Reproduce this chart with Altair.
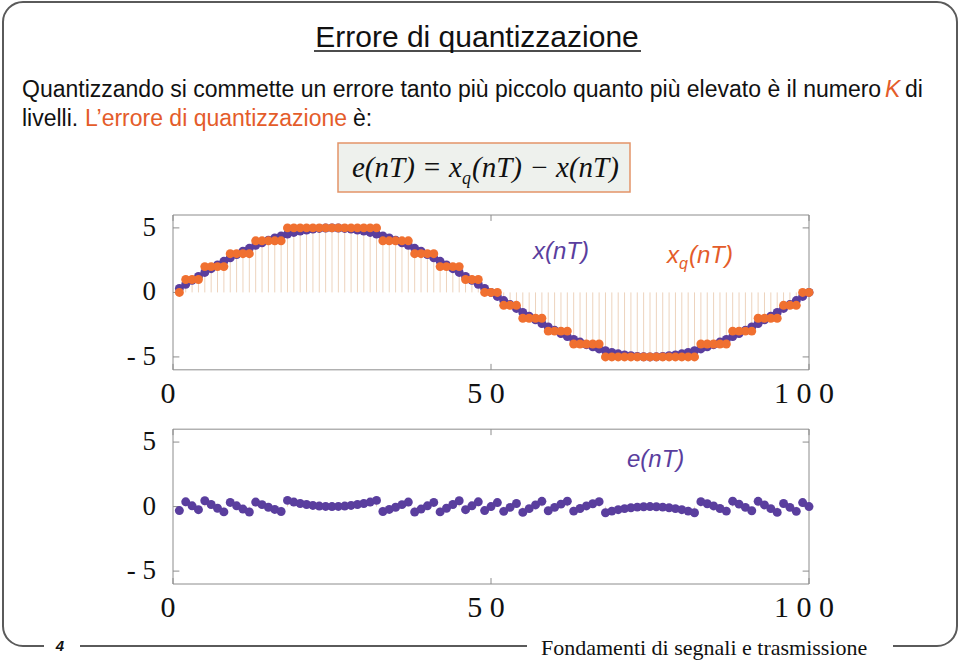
import altair as alt
import pandas as pd

# ---------------- data ----------------
n_idx = list(range(1, 101))

x_vals = [0.31, 0.63, 0.94, 1.24, 1.55, 1.84, 2.13, 2.41, 2.68, 2.94,
          3.19, 3.42, 3.65, 3.85, 4.05, 4.22, 4.38, 4.52, 4.65, 4.76,
          4.84, 4.91, 4.96, 4.99, 5.00, 4.99, 4.96, 4.91, 4.84, 4.76,
          4.65, 4.52, 4.38, 4.22, 4.05, 3.85, 3.65, 3.42, 3.19, 2.94,
          2.68, 2.41, 2.13, 1.84, 1.55, 1.24, 0.94, 0.63, 0.31, 0.00,
          -0.31, -0.63, -0.94, -1.24, -1.55, -1.84, -2.13, -2.41, -2.68, -2.94,
          -3.19, -3.42, -3.65, -3.85, -4.05, -4.22, -4.38, -4.52, -4.65, -4.76,
          -4.84, -4.91, -4.96, -4.99, -5.00, -4.99, -4.96, -4.91, -4.84, -4.76,
          -4.65, -4.52, -4.38, -4.22, -4.05, -3.85, -3.65, -3.42, -3.19, -2.94,
          -2.68, -2.41, -2.13, -1.84, -1.55, -1.24, -0.94, -0.63, -0.31, 0.00]

xq_vals = [0, 1, 1, 1, 2, 2, 2, 2, 3, 3,
           3, 3, 4, 4, 4, 4, 4, 5, 5, 5,
           5, 5, 5, 5, 5, 5, 5, 5, 5, 5,
           5, 5, 4, 4, 4, 4, 4, 3, 3, 3,
           3, 2, 2, 2, 2, 1, 1, 1, 0, 0,
           0, -1, -1, -1, -2, -2, -2, -2, -3, -3,
           -3, -3, -4, -4, -4, -4, -4, -5, -5, -5,
           -5, -5, -5, -5, -5, -5, -5, -5, -5, -5,
           -5, -5, -4, -4, -4, -4, -4, -3, -3, -3,
           -3, -2, -2, -2, -2, -1, -1, -1, 0, 0]

e_vals = [-0.31, 0.37, 0.06, -0.24, 0.45, 0.16, -0.13, -0.41, 0.32, 0.06,
          -0.19, -0.42, 0.35, 0.15, -0.05, -0.22, -0.38, 0.48, 0.35, 0.24,
          0.16, 0.09, 0.04, 0.01, 0.00, 0.01, 0.04, 0.09, 0.16, 0.24,
          0.35, 0.48, -0.38, -0.22, -0.05, 0.15, 0.35, -0.42, -0.19, 0.06,
          0.32, -0.41, -0.13, 0.16, 0.45, -0.24, 0.06, 0.37, -0.31, 0.00,
          0.31, -0.37, -0.06, 0.24, -0.45, -0.16, 0.13, 0.41, -0.32, -0.06,
          0.19, 0.42, -0.35, -0.15, 0.05, 0.22, 0.38, -0.48, -0.35, -0.24,
          -0.16, -0.09, -0.04, -0.01, 0.00, -0.01, -0.04, -0.09, -0.16, -0.24,
          -0.35, -0.48, 0.38, 0.22, 0.05, -0.15, -0.35, 0.42, 0.19, -0.06,
          -0.32, 0.41, 0.13, -0.16, -0.45, 0.24, -0.06, -0.37, 0.31, 0.00]

y_ticks = [5, 0, -5]
y_tick_labels = ["5", "0", "- 5"]
x_ticks = [0, 50, 100]
x_tick_labels = ["0", "5  0", "1  0  0"]

# ---------------- styles ----------------
PURPLE = "#5a3e9e"
ORANGE = "#f07030"
TXT_ORANGE = "#e45c2a"
STEM = "#edd3bd"
FRAME = "#8c8c8c"
SERIF = "Liberation Serif"
SANS = "Liberation Sans"
DOT = 80

# both panels share one y scale; the lower panel is drawn with a vertical offset
Y_LIM = 6
BOT_SHIFT = -16.6

top_df = pd.DataFrame({"n": n_idx, "xs": x_vals, "xq": xq_vals})
bot_df = pd.DataFrame({"n": n_idx, "e": e_vals})
yt_df = pd.DataFrame({"t": y_ticks, "lab": y_tick_labels})
xt_df = pd.DataFrame({"t": x_ticks, "lab": x_tick_labels})
one = pd.DataFrame({"k": [0]})

xsc = alt.Scale(domain=[0, 100], range=[173, 809], nice=False, zero=False)
ysc = alt.Scale(domain=[BOT_SHIFT - Y_LIM, Y_LIM], range=[584, 215], nice=False, zero=False)


def X(f):
    return alt.X(f, type="quantitative", scale=xsc, axis=None)


def Y(f):
    return alt.Y(f, type="quantitative", scale=ysc, axis=None)


def frame_layers(shift):
    lo, hi = shift - Y_LIM, shift + Y_LIM
    layers = [
        alt.Chart(one).transform_calculate(
            a="0", b="100", c=f"{lo}", d=f"{hi}"
        ).mark_rect(fillOpacity=0, stroke=FRAME, strokeWidth=1).encode(
            x=X("a"), x2="b", y=Y("c"), y2="d"),
    ]
    for a, b in [(0, 1), (99, 100)]:
        layers.append(
            alt.Chart(yt_df).transform_calculate(
                ty=f"datum.t + ({shift})", a=f"{a}", b=f"{b}"
            ).mark_rule(color=FRAME, strokeWidth=1).encode(
                x=X("a"), x2="b", y=Y("ty")))
    for a, b in [(lo, lo + 0.46), (hi, hi - 0.46)]:
        layers.append(
            alt.Chart(xt_df).transform_calculate(
                a=f"{a}", b=f"{b}"
            ).mark_rule(color=FRAME, strokeWidth=1).encode(
                x=X("t"), y=Y("a"), y2="b"))
    layers.append(
        alt.Chart(yt_df).transform_calculate(
            ty=f"datum.t + ({shift})", a="0"
        ).mark_text(font=SERIF, fontSize=27, align="right", baseline="middle",
                    dx=-17, color="#111").encode(
            x=X("a"), y=Y("ty"), text="lab:N"))
    layers.append(
        alt.Chart(xt_df).transform_calculate(
            c=f"{lo}"
        ).mark_text(font=SERIF, fontSize=30, align="center", baseline="alphabetic",
                    dx=-5, dy=33, color="#111").encode(
            x=X("t"), y=Y("c"), text="lab:N"))
    return layers


# ---------------- top panel ----------------
top_base = alt.Chart(top_df).transform_calculate(z="0")
top_stems = top_base.mark_rule(color=STEM, strokeWidth=1).encode(
    x=X("n"), y=Y("z"), y2="xq")
top_x = top_base.mark_circle(size=DOT, opacity=1, color=PURPLE).encode(
    x=X("n"), y=Y("xs"))
top_xq = top_base.mark_circle(size=DOT, opacity=1, color=ORANGE).encode(
    x=X("n"), y=Y("xq"))

# ---------------- bottom panel ----------------
bot_base = alt.Chart(bot_df).transform_calculate(
    es=f"datum.e + ({BOT_SHIFT})", z=f"{BOT_SHIFT}")
bot_stems = bot_base.mark_rule(color=STEM, strokeWidth=1).encode(
    x=X("n"), y=Y("z"), y2="es")
bot_e = bot_base.mark_circle(size=DOT, opacity=1, color=PURPLE).encode(
    x=X("n"), y=Y("es"))


# ---------------- slide decorations ----------------
def txt(text, x, y, size, color="#111", font=SANS, style="normal",
        weight="normal", align="left", baseline="alphabetic"):
    return alt.Chart(one).mark_text(
        text=text, font=font, fontSize=size, fontStyle=style, fontWeight=weight,
        color=color, align=align, baseline=baseline).encode(
        x=alt.value(x), y=alt.value(y))


def box(x1, x2, y1, y2, fill="white", stroke=None, sw=1, radius=0):
    kw = dict(fill=fill)
    if stroke is not None:
        kw.update(stroke=stroke, strokeWidth=sw)
    if radius:
        kw.update(cornerRadius=radius)
    return alt.Chart(one).mark_rect(**kw).encode(
        x=alt.value(x1), x2=alt.value(x2), y=alt.value(y1), y2=alt.value(y2))


back = [
    box(3, 957, 2, 646, fill="white", stroke="#5a5a5a", sw=2, radius=20),
    box(44, 80, 638, 655, fill="white"),
    box(527, 893, 638, 655, fill="white"),
]

front = [
    txt("Errore di quantizzazione", 477, 47, 30, align="center"),
    alt.Chart(one).mark_rule(color="#111", strokeWidth=1.5).encode(
        x=alt.value(314), x2=alt.value(641), y=alt.value(51)),
    txt("Quantizzando si commette un errore tanto più piccolo quanto più elevato è il numero",
        22, 97, 23),
    txt("K", 885, 97, 23, color=TXT_ORANGE, style="italic"),
    txt("di", 905, 97, 23),
    txt("livelli.", 22, 126, 23),
    txt("L’errore di quantizzazione", 85, 126, 23, color=TXT_ORANGE),
    txt("è:", 353, 126, 23),
    box(338, 630, 143, 192, fill="#eef1ed", stroke="#e39468", sw=1.5),
    txt("e(nT) = x", 352, 177, 29, font=SERIF, style="italic"),
    txt("q", 462, 184, 18, font=SERIF, style="italic"),
    txt("(nT) − x(nT)", 472, 177, 29, font=SERIF, style="italic"),
    txt("x(nT)", 533, 259, 24, color=PURPLE, style="italic"),
    txt("x", 667, 263, 24, color=TXT_ORANGE, style="italic"),
    txt("q", 679, 269, 16, color=TXT_ORANGE, style="italic"),
    txt("(nT)", 689, 263, 24, color=TXT_ORANGE, style="italic"),
    txt("e(nT)", 627, 467, 24, color=PURPLE, style="italic"),
    txt("4", 60, 651, 15, style="italic", weight="bold", align="center"),
    txt("Fondamenti di segnali e trasmissione", 541, 655, 22, font=SERIF),
]

chart = alt.layer(
    *back,
    *frame_layers(0), top_stems, top_x, top_xq,
    *frame_layers(BOT_SHIFT), bot_stems, bot_e,
    *front,
).properties(
    width=960, height=661, padding=0,
    autosize=alt.AutoSizeParams(type="none"),
).configure_view(stroke=None)

chart.save("out.html", embed_options={"renderer": "svg", "actions": False})
